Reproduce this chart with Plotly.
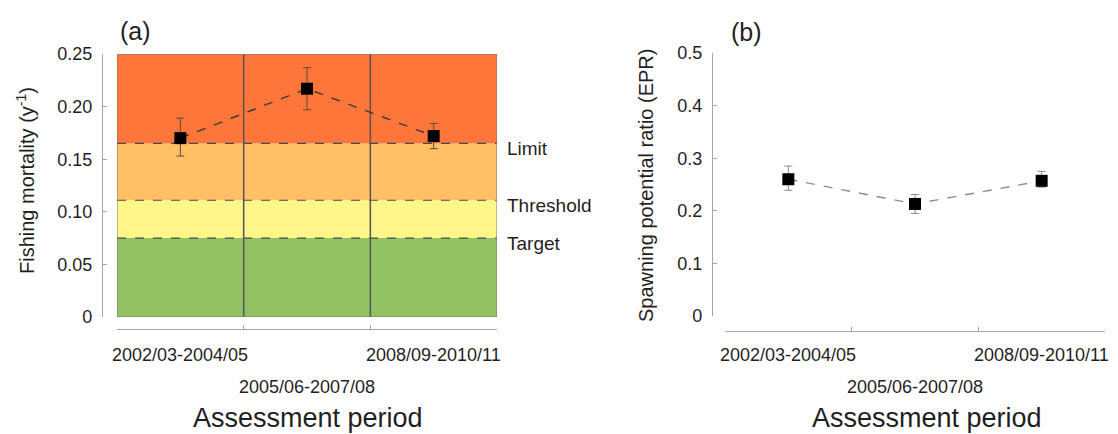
import plotly.graph_objects as go

W, H = 1118, 434
OX, OY = 8, 8  # page offset of the plot div (default body margin)
FW, FH = W - OX, H - OY

periods = ["2002/03-2004/05", "2005/06-2007/08", "2008/09-2010/11"]

# Panel (a): fishing mortality
f_vals = [0.170, 0.217, 0.172]
f_err_plus = [0.019, 0.020, 0.012]
f_err_minus = [0.017, 0.020, 0.012]
ref_names = ["Target", "Threshold", "Limit"]
ref_vals = [0.075, 0.111, 0.165]
f_ticks = [0, 0.05, 0.10, 0.15, 0.20, 0.25]
f_ticktext = ["0", "0.05", "0.10", "0.15", "0.20", "0.25"]

# Panel (b): spawning potential ratio
e_vals = [0.260, 0.213, 0.257]
e_err_plus = [0.025, 0.018, 0.018]
e_err_minus = [0.021, 0.018, 0.012]
e_ticks = [0, 0.1, 0.2, 0.3, 0.4, 0.5]
e_ticktext = ["0", "0.1", "0.2", "0.3", "0.4", "0.5"]

band_colors = ["#92c263", "#fff68a", "#ffc066", "#ff763b"]

FONT = "Liberation Sans, Arial, sans-serif"
TXT = "#1f1f1f"
AX = "#a6a6a6"


def px(x):
    return (x - OX) / FW


def py(y):
    return 1 - (y - OY) / FH


xs = list(range(len(periods)))

fig = go.Figure()

fig.add_trace(go.Scatter(
    x=xs, y=f_vals, xaxis="x", yaxis="y", mode="lines+markers",
    line=dict(color="#3a3a3a", width=1.4, dash="dash"),
    marker=dict(symbol="square", size=12, color="black"),
    error_y=dict(type="data", symmetric=False, array=f_err_plus, arrayminus=f_err_minus,
                 color="#5a4a40", thickness=1, width=4),
    showlegend=False, hoverinfo="skip"))

fig.add_trace(go.Scatter(
    x=xs, y=e_vals, xaxis="x2", yaxis="y2", mode="lines+markers",
    line=dict(color="#8c8c8c", width=1.4, dash="dash"),
    marker=dict(symbol="square", size=12, color="black"),
    error_y=dict(type="data", symmetric=False, array=e_err_plus, arrayminus=e_err_minus,
                 color="#8c8c8c", thickness=1, width=4),
    showlegend=False, hoverinfo="skip"))

xr = [-0.5, len(periods) - 0.5]
bounds = [x + 0.5 for x in range(-1, len(periods))]

common_x = dict(
    range=xr, showgrid=False, zeroline=False, showline=True, linecolor=AX, linewidth=1.2,
    tickmode="array", tickvals=bounds, showticklabels=False, automargin=False,
    ticks="inside", ticklen=4, tickcolor=AX, anchor="free", fixedrange=True)

common_y = dict(
    showgrid=False, zeroline=False, showline=True, linecolor=AX, linewidth=1.2,
    tickmode="array", ticks="inside", ticklen=4, tickcolor=AX, automargin=False,
    tickfont=dict(family=FONT, size=18, color=TXT), anchor="free", fixedrange=True,
    ticklabelstandoff=6)

fig.update_layout(
    template="none",
    width=FW, height=FH, margin=dict(l=0, r=0, t=0, b=0, pad=0, autoexpand=False),
    paper_bgcolor="white", plot_bgcolor="rgba(0,0,0,0)",
    font=dict(family=FONT, color=TXT),
    xaxis=dict(common_x, domain=[px(117), px(497)], position=py(329)),
    yaxis=dict(common_y, domain=[py(317), py(54)], range=[0, 0.25],
               tickvals=f_ticks, ticktext=f_ticktext, position=px(102)),
    xaxis2=dict(common_x, domain=[px(725), px(1105)], position=py(331)),
    yaxis2=dict(common_y, domain=[py(316), py(53)], range=[0, 0.5],
                tickvals=e_ticks, ticktext=e_ticktext, position=px(712)),
)

shapes = []
levels = [0] + ref_vals + [0.25]
for i, c in enumerate(band_colors):
    shapes.append(dict(type="rect", xref="x", yref="y", x0=xr[0], x1=xr[1],
                       y0=levels[i], y1=levels[i + 1], fillcolor=c, line=dict(width=0),
                       layer="below"))
for v in ref_vals:
    shapes.append(dict(type="line", xref="x", yref="y", x0=xr[0], x1=xr[1], y0=v, y1=v,
                       line=dict(color="#4a4a4a", width=1.1, dash="dash"), layer="below"))
for b in bounds[1:-1]:
    shapes.append(dict(type="line", xref="x", yref="y", x0=b, x1=b, y0=0, y1=0.25,
                       line=dict(color="#555555", width=1.5), layer="below"))
shapes.append(dict(type="rect", xref="x", yref="y", x0=xr[0], x1=xr[1], y0=0, y1=0.25,
                   line=dict(color="#7a7a7a", width=1), layer="below"))
fig.update_layout(shapes=shapes)

ann = []
for name, v in zip(ref_names, ref_vals):
    ann.append(dict(text=name, xref="paper", yref="y", x=px(505), y=v, xanchor="left",
                    yanchor="middle", yshift=-5, showarrow=False,
                    font=dict(family=FONT, size=19, color=TXT)))

row_y = [355, 387]
for xref in ["x", "x2"]:
    for i, p in enumerate(periods):
        ann.append(dict(text=p, xref=xref, yref="paper", x=i, y=py(row_y[i % 2]),
                        xanchor="center", yanchor="middle", showarrow=False,
                        font=dict(family=FONT, size=18, color=TXT)))

for xc in [308, 927]:
    ann.append(dict(text="Assessment period", xref="paper", yref="paper", x=px(xc),
                    y=py(418), xanchor="center", yanchor="middle", showarrow=False,
                    font=dict(family=FONT, size=27, color=TXT)))

ann.append(dict(text="Fishing mortality (y<sup>-1</sup>)", xref="paper", yref="paper",
                x=px(25), y=py(181), textangle=-90, xanchor="center", yanchor="middle",
                showarrow=False, font=dict(family=FONT, size=20, color=TXT)))
ann.append(dict(text="Spawning potential ratio (EPR)", xref="paper", yref="paper",
                x=px(646), y=py(186), textangle=-90, xanchor="center", yanchor="middle",
                showarrow=False, font=dict(family=FONT, size=20, color=TXT)))

ann.append(dict(text="(a)", xref="paper", yref="paper", x=px(118), y=py(31),
                xanchor="left", yanchor="middle", showarrow=False,
                font=dict(family=FONT, size=25, color=TXT)))
ann.append(dict(text="(b)", xref="paper", yref="paper", x=px(729), y=py(32),
                xanchor="left", yanchor="middle", showarrow=False,
                font=dict(family=FONT, size=25, color=TXT)))

fig.update_layout(annotations=ann)

fig.write_html("out.html")
